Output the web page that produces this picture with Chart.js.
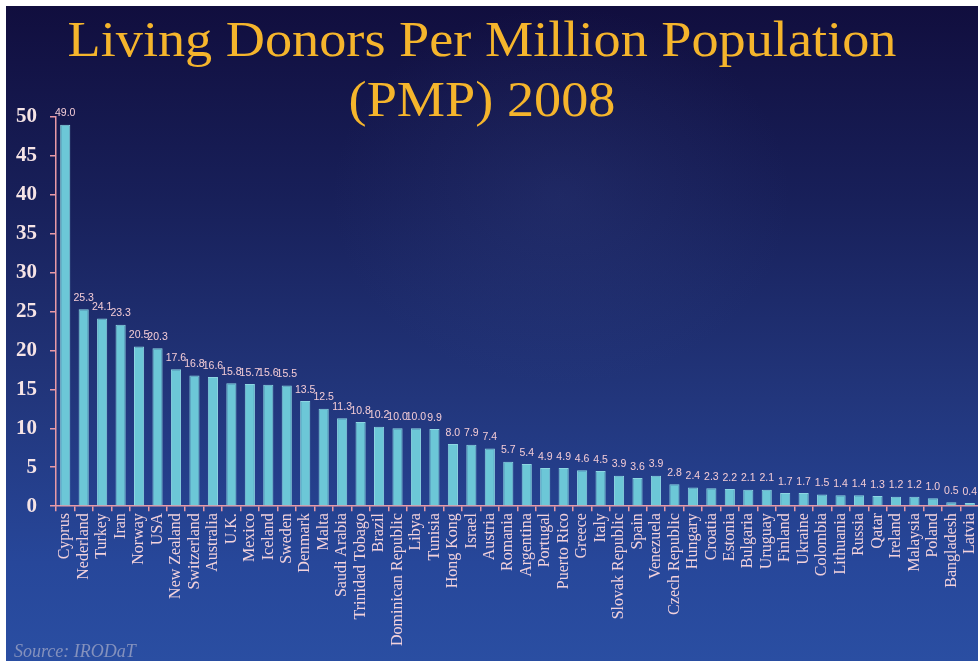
<!DOCTYPE html>
<html>
<head>
<meta charset="utf-8">
<script src="https://cdn.jsdelivr.net/npm/chart.js@4"></script>
<style>
  html, body { margin: 0; padding: 0; background: #ffffff; }
  #panel {
    position: absolute; left: 6px; top: 6px; width: 972px; height: 655px; overflow: hidden;
    background:
      radial-gradient(ellipse 230px 190px at 555px 190px, rgba(70, 90, 160, 0.16), rgba(70, 90, 160, 0) 100%),
      linear-gradient(to bottom, #110e3e 0%, #18205a 30%, #22367c 60%, #27479a 85%, #2a4ea2 100%);
  }
  #wrap { position: absolute; left: 0; top: 0; width: 985px; height: 655px; }
</style>
</head>
<body>
<div id="panel">
  <div id="wrap"><canvas id="donorChart"></canvas></div>
</div>
<script>
const countries = ['Cyprus', 'Nederland', 'Turkey', 'Iran', 'Norway', 'USA', 'New Zealand', 'Switzerland',
  'Australia', 'U.K.', 'Mexico', 'Iceland', 'Sweden', 'Denmark', 'Malta', 'Saudi Arabia', 'Trinidad Tobago',
  'Brazil', 'Dominican Republic', 'Libya', 'Tunisia', 'Hong Kong', 'Israel', 'Austria', 'Romania', 'Argentina',
  'Portugal', 'Puerto Rico', 'Greece', 'Italy', 'Slovak Republic', 'Spain', 'Venezuela', 'Czech Republic',
  'Hungary', 'Croatia', 'Estonia', 'Bulgaria', 'Uruguay', 'Finland', 'Ukraine', 'Colombia', 'Lithuania',
  'Russia', 'Qatar', 'Ireland', 'Malaysia', 'Poland', 'Bangladesh', 'Latvia'];
const pmp = [49.0, 25.3, 24.1, 23.3, 20.5, 20.3, 17.6, 16.8, 16.6, 15.8, 15.7, 15.6, 15.5, 13.5, 12.5, 11.3,
  10.8, 10.2, 10.0, 10.0, 9.9, 8.0, 7.9, 7.4, 5.7, 5.4, 4.9, 4.9, 4.6, 4.5, 3.9, 3.6, 3.9, 2.8, 2.4, 2.3,
  2.2, 2.1, 2.1, 1.7, 1.7, 1.5, 1.4, 1.4, 1.3, 1.2, 1.2, 1.0, 0.5, 0.4];
const titleLines = ['Living Donors Per Million Population', '(PMP) 2008'];
const sourceText = 'Source: IRODaT';

const pink = '#e99aa6';

// values above the bars + title and source text
const labelPlugin = {
  id: 'labels',
  afterDatasetsDraw(chart) {
    const ctx = chart.ctx;
    const meta = chart.getDatasetMeta(0);
    ctx.save();
    ctx.font = '10.5px "Liberation Sans", Arial, sans-serif';
    ctx.fillStyle = '#f4ccd6';
    ctx.textAlign = 'center';
    ctx.textBaseline = 'bottom';
    meta.data.forEach((bar, i) => {
      ctx.fillText(pmp[i].toFixed(1), bar.x, bar.y - 6);
    });
    ctx.restore();
  },
  afterDraw(chart) {
    const ctx = chart.ctx;
    ctx.save();
    // the slide text is a little wider than the font, stretch it sideways
    ctx.translate(476, 0);
    ctx.scale(1.085, 1);
    ctx.font = '50px "Liberation Serif", "Times New Roman", serif';
    ctx.fillStyle = '#f5b52c';
    ctx.textAlign = 'center';
    ctx.textBaseline = 'alphabetic';
    ctx.fillText(titleLines[0], 0, 50);
    ctx.fillText(titleLines[1], 0, 110);
    ctx.restore();
    ctx.save();
    ctx.font = 'italic 18px "Liberation Serif", "Times New Roman", serif';
    ctx.fillStyle = '#8491bd';
    ctx.textAlign = 'left';
    ctx.fillText(sourceText, 8, 651);
    ctx.restore();
  }
};

new Chart(document.getElementById('donorChart'), {
  type: 'bar',
  data: {
    labels: countries,
    datasets: [{
      data: pmp,
      backgroundColor: '#6cc7d7',
      borderColor: '#8dd6e2',
      borderWidth: 1,
      barPercentage: 0.55,
      categoryPercentage: 1.0
    }]
  },
  options: {
    responsive: true,
    maintainAspectRatio: false,
    animation: false,
    layout: { padding: { top: 111, left: 4, right: 0, bottom: 13 } },
    plugins: {
      legend: { display: false },
      title: { display: false },
      tooltip: { enabled: false }
    },
    scales: {
      x: {
        border: { color: pink, width: 1.5 },
        grid: { drawOnChartArea: false, color: pink, tickLength: 5, lineWidth: 1.5 },
        ticks: {
          autoSkip: false,
          maxRotation: 90,
          minRotation: 90,
          padding: 2,
          color: '#f2d2dc',
          font: { family: '"Liberation Serif", "Times New Roman", serif', size: 16 }
        }
      },
      y: {
        min: 0,
        max: 50,
        afterFit: (scale) => { scale.width = 46; },
        border: { color: pink, width: 1.5 },
        grid: { drawOnChartArea: false, color: pink, tickLength: 6, lineWidth: 1.5 },
        ticks: {
          stepSize: 5,
          padding: 13,
          color: '#f6e4e6',
          font: { family: '"Liberation Serif", "Times New Roman", serif', size: 21, weight: 'bold' }
        }
      }
    }
  },
  plugins: [labelPlugin]
});
</script>
</body>
</html>
